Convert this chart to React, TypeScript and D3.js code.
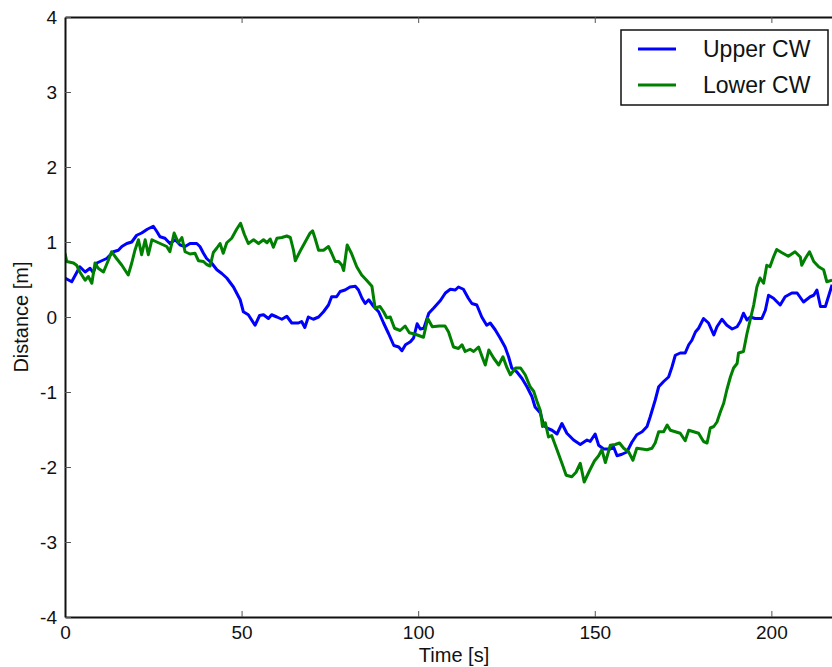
import React, { useRef, useEffect } from 'react';
import * as d3 from 'd3';

// [time s, distance m]
const upperCW: [number, number][] = [
  [0, 0.52], [1.9, 0.47], [4.2, 0.67], [5.7, 0.6], [7.1, 0.65], [8.0, 0.59], [9.0, 0.72], [11.8, 0.78],
  [13.7, 0.87], [15.1, 0.89], [16.1, 0.94], [17.5, 0.98], [18.9, 1.0], [20.3, 1.09], [21.7, 1.12], [23.3, 1.17],
  [25.0, 1.21], [26.0, 1.14], [26.9, 1.07], [28.3, 1.05], [29.7, 0.98], [31.2, 1.03], [32.6, 0.96], [34.0, 0.94],
  [35.4, 0.98], [37.3, 0.98], [38.2, 0.94], [39.2, 0.85], [40.1, 0.78], [41.5, 0.72], [43.0, 0.63], [44.4, 0.58],
  [45.8, 0.52], [47.7, 0.4], [49.6, 0.23], [50.5, 0.07], [51.9, 0.03], [53.8, -0.11], [55.1, 0.02], [56.2, 0.03],
  [57.6, -0.02], [58.5, 0.03], [60.0, 0.0], [61.4, -0.03], [62.8, 0.01], [64.2, -0.08], [66.1, -0.08], [67.0, -0.06],
  [67.9, -0.14], [68.9, 0.0], [70.3, -0.03], [71.8, 0.0], [73.2, 0.07], [74.6, 0.16], [75.5, 0.27], [76.9, 0.27],
  [77.9, 0.34], [79.3, 0.36], [80.7, 0.4], [82.2, 0.41], [83.1, 0.36], [84.1, 0.25], [85.0, 0.18], [86.0, 0.23],
  [87.4, 0.14], [88.8, 0.07], [90.2, -0.08], [91.6, -0.22], [93.1, -0.38], [94.5, -0.4], [95.4, -0.45], [96.4, -0.37],
  [97.8, -0.33], [98.7, -0.28], [99.7, -0.09], [100.6, -0.16], [101.6, -0.15], [103.0, 0.05], [104.4, 0.12], [106.3, 0.22],
  [107.7, 0.32], [109.1, 0.37], [110.5, 0.36], [111.4, 0.4], [112.8, 0.37], [114.2, 0.25], [115.2, 0.18], [116.6, 0.16],
  [118.0, 0.0], [119.4, -0.11], [120.4, -0.08], [121.8, -0.17], [123.2, -0.28], [124.6, -0.4], [125.6, -0.53], [126.5, -0.68],
  [127.9, -0.73], [129.4, -0.82], [130.8, -0.93], [132.2, -1.06], [133.1, -1.2], [134.6, -1.28], [135.5, -1.44], [136.4, -1.48],
  [137.9, -1.51], [139.3, -1.56], [140.7, -1.42], [142.1, -1.55], [144.0, -1.64], [145.9, -1.7], [147.8, -1.64], [148.7, -1.66],
  [150.1, -1.56], [151.1, -1.71], [152.5, -1.76], [154.4, -1.76], [155.3, -1.73], [156.3, -1.85], [157.7, -1.83], [159.1, -1.8],
  [160.5, -1.67], [161.9, -1.57], [163.4, -1.53], [164.8, -1.46], [165.7, -1.33], [167.1, -1.11], [168.1, -0.93], [169.5, -0.86],
  [170.9, -0.8], [171.9, -0.66], [172.8, -0.51], [174.2, -0.48], [175.6, -0.48], [176.6, -0.37], [177.5, -0.31], [178.5, -0.2],
  [179.4, -0.15], [180.8, -0.02], [182.2, -0.08], [183.7, -0.24], [184.6, -0.13], [186.0, -0.03], [187.4, -0.11], [188.9, -0.16],
  [190.3, -0.13], [191.2, -0.06], [192.1, 0.05], [193.1, -0.04], [194.0, 0.0], [195.4, -0.02], [197.3, -0.02], [198.3, 0.09],
  [199.2, 0.29], [200.6, 0.25], [202.5, 0.16], [203.9, 0.27], [205.8, 0.32], [207.3, 0.32], [209.1, 0.2], [211.0, 0.27],
  [212.0, 0.29], [212.9, 0.36], [213.9, 0.14], [215.3, 0.14], [217.2, 0.43],
];

const lowerCW: [number, number][] = [
  [0, 0.85], [0.5, 0.74], [2.4, 0.72], [3.3, 0.69], [4.2, 0.6], [5.7, 0.49], [6.6, 0.54], [7.6, 0.45],
  [8.5, 0.72], [9.4, 0.65], [10.9, 0.6], [12.3, 0.76], [13.2, 0.87], [14.6, 0.78], [16.1, 0.69], [17.9, 0.56],
  [18.9, 0.72], [19.8, 0.89], [20.8, 1.03], [21.7, 0.83], [22.7, 1.03], [23.6, 0.83], [24.6, 1.03], [26.0, 1.0],
  [27.4, 0.97], [28.8, 0.94], [29.7, 0.87], [30.9, 1.12], [32.1, 0.99], [33.1, 1.06], [34.0, 0.87], [35.4, 0.84],
  [36.8, 0.85], [37.8, 0.75], [39.2, 0.74], [40.1, 0.7], [41.1, 0.68], [42.0, 0.86], [43.0, 0.92], [43.9, 0.98],
  [44.8, 0.85], [45.8, 0.99], [47.2, 1.05], [48.6, 1.17], [49.7, 1.25], [50.8, 1.1], [51.9, 0.98], [53.4, 1.03],
  [54.8, 0.98], [56.2, 1.03], [57.2, 0.99], [58.1, 1.04], [59.0, 0.93], [60.0, 1.05], [61.4, 1.06], [62.8, 1.08],
  [63.8, 1.06], [64.7, 0.89], [65.2, 0.75], [66.6, 0.88], [68.0, 1.0], [69.4, 1.12], [70.1, 1.15], [70.8, 1.05],
  [71.8, 0.89], [73.2, 0.89], [74.6, 0.94], [75.5, 0.85], [76.5, 0.74], [77.5, 0.74], [78.4, 0.69], [78.9, 0.62],
  [79.9, 0.96], [81.1, 0.85], [82.6, 0.67], [84.0, 0.56], [85.4, 0.49], [86.9, 0.41], [87.8, 0.12], [89.2, 0.14],
  [90.2, 0.07], [91.1, -0.01], [92.1, 0.0], [93.3, -0.15], [94.9, -0.18], [96.3, -0.12], [97.5, -0.21], [99.2, -0.23],
  [101.5, -0.27], [102.7, -0.02], [104.0, -0.13], [106.0, -0.12], [107.6, -0.12], [108.6, -0.2], [110.0, -0.4], [111.4, -0.42],
  [112.4, -0.37], [113.3, -0.46], [114.7, -0.43], [115.7, -0.46], [117.1, -0.4], [118.1, -0.53], [119.0, -0.64], [120.0, -0.44],
  [121.4, -0.55], [122.8, -0.64], [124.0, -0.53], [125.0, -0.66], [126.1, -0.77], [127.6, -0.68], [129.0, -0.68], [130.3, -0.77],
  [131.7, -0.93], [132.7, -0.99], [133.6, -1.12], [134.6, -1.25], [135.2, -1.46], [136.0, -1.41], [136.9, -1.6], [137.8, -1.58],
  [139.3, -1.77], [140.7, -1.95], [141.9, -2.11], [143.5, -2.13], [144.7, -2.07], [145.9, -1.95], [147.0, -2.2], [148.5, -2.05],
  [149.9, -1.92], [151.1, -1.85], [152.0, -1.77], [153.0, -1.94], [154.4, -1.71], [155.8, -1.7], [157.0, -1.68], [158.2, -1.75],
  [159.6, -1.8], [160.8, -1.91], [161.9, -1.75], [163.4, -1.76], [164.8, -1.77], [166.2, -1.75], [167.1, -1.68], [168.1, -1.53],
  [169.5, -1.53], [170.5, -1.44], [171.4, -1.51], [172.8, -1.53], [174.2, -1.55], [175.6, -1.65], [176.6, -1.51], [178.0, -1.53],
  [179.4, -1.55], [180.8, -1.66], [181.8, -1.68], [182.7, -1.48], [183.7, -1.46], [184.6, -1.4], [185.6, -1.26], [186.5, -1.15],
  [187.4, -0.97], [188.4, -0.8], [189.3, -0.68], [190.3, -0.62], [190.7, -0.48], [192.1, -0.46], [193.1, -0.22], [194.0, -0.04],
  [195.0, 0.16], [195.9, 0.4], [196.8, 0.52], [197.8, 0.45], [198.7, 0.69], [199.6, 0.67], [200.6, 0.8], [201.5, 0.9],
  [202.9, 0.86], [204.8, 0.81], [206.7, 0.87], [208.2, 0.8], [208.6, 0.69], [209.6, 0.78], [210.8, 0.87], [212.0, 0.74],
  [213.4, 0.67], [214.8, 0.63], [215.7, 0.47], [217.2, 0.49],
];

const xTicks = [0, 50, 100, 150, 200];
const yTicks = [-4, -3, -2, -1, 0, 1, 2, 3, 4];
const seriesNames = ['Upper CW', 'Lower CW'];
const seriesColors = ['#0000ff', '#008000'];

const App: React.FC = () => {
  const svgRef = useRef<SVGSVGElement | null>(null);

  useEffect(() => {
    if (!svgRef.current) return;
    const svg = d3.select(svgRef.current);
    svg.selectAll('*').remove();

    const margin = { top: 17, left: 65 };
    const innerWidth = 777;
    const innerHeight = 600;
    const font = '"Liberation Sans", Arial, sans-serif';

    const x = d3.scaleLinear().domain([0, 220]).range([0, innerWidth]);
    const y = d3.scaleLinear().domain([-4, 4]).range([innerHeight, 0]);

    const g = svg.append('g').attr('transform', `translate(${margin.left},${margin.top})`);

    g.append('clipPath').attr('id', 'plot-clip')
      .append('rect').attr('width', innerWidth).attr('height', innerHeight);

    const line = d3.line<[number, number]>()
      .x(d => x(d[0]))
      .y(d => y(d[1]));

    [upperCW, lowerCW].forEach((series, i) => {
      g.append('path')
        .datum(series)
        .attr('clip-path', 'url(#plot-clip)')
        .attr('fill', 'none')
        .attr('stroke', seriesColors[i])
        .attr('stroke-width', 3)
        .attr('stroke-linejoin', 'round')
        .attr('d', line);
    });

    // plain hyphen for negatives, like the original
    const fmt = (d: d3.NumberValue) => String(d);

    // bottom axis
    const xb = g.append('g')
      .attr('transform', `translate(0,${innerHeight})`)
      .call(d3.axisBottom(x).tickValues(xTicks).tickSizeInner(-6).tickSizeOuter(0).tickPadding(9).tickFormat(fmt));
    // top axis, ticks only
    const xt = g.append('g')
      .call(d3.axisTop(x).tickValues(xTicks).tickSizeInner(-6).tickSizeOuter(0).tickFormat(() => ''));
    // left axis
    const yl = g.append('g')
      .call(d3.axisLeft(y).tickValues(yTicks).tickSizeInner(-6).tickSizeOuter(0).tickPadding(8).tickFormat(fmt));

    [xb, xt, yl].forEach(a => {
      a.select('.domain').attr('stroke', '#111').attr('stroke-width', 2);
      a.selectAll('.tick line').attr('stroke', '#555').attr('stroke-width', 1);
      a.selectAll('text').attr('font-family', font).attr('font-size', 19).attr('fill', '#111');
    });

    // axis labels
    svg.append('text')
      .attr('x', 454).attr('y', 662)
      .attr('text-anchor', 'middle')
      .attr('font-family', font).attr('font-size', 20).attr('fill', '#111')
      .text('Time [s]');
    svg.append('text')
      .attr('transform', `translate(28,${margin.top + innerHeight / 2}) rotate(-90)`)
      .attr('text-anchor', 'middle')
      .attr('font-family', font).attr('font-size', 20).attr('fill', '#111')
      .text('Distance [m]');

    // legend
    const lg = svg.append('g').attr('transform', 'translate(621,30)');
    lg.append('rect')
      .attr('width', 207).attr('height', 75)
      .attr('fill', 'white').attr('stroke', '#111').attr('stroke-width', 1.5);
    seriesNames.forEach((name, i) => {
      const ly = 19 + i * 36;
      lg.append('line')
        .attr('x1', 17).attr('x2', 55).attr('y1', ly).attr('y2', ly)
        .attr('stroke', seriesColors[i]).attr('stroke-width', 3);
      lg.append('text')
        .attr('x', 82).attr('y', ly + 8)
        .attr('font-family', font).attr('font-size', 23).attr('fill', '#111')
        .text(name);
    });
  }, []);

  return (
    <svg
      ref={svgRef}
      width={832}
      height={667}
      style={{ position: 'absolute', left: 0, top: 0, background: 'white' }}
    />
  );
};

export default App;
